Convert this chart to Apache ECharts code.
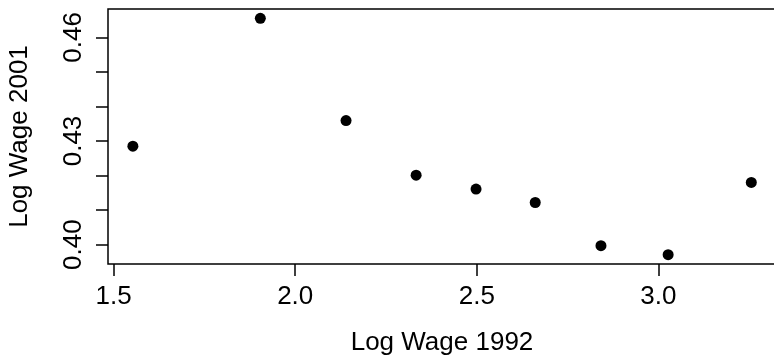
<!DOCTYPE html>
<html>
<head>
<meta charset="utf-8">
<script src="https://cdn.jsdelivr.net/npm/echarts@6/dist/echarts.min.js"></script>
<style>
	html, body {
		margin: 0;
		padding: 0;
		background: #fff;
	}
</style>
</head>
<body>
<div id="chartBox" style="width: 774px;height: 362px;"></div>
<script>
	// 数据
	var wage1992 = [1.553, 1.904, 2.140, 2.333, 2.498, 2.661, 2.842, 3.027, 3.256];
	var wage2001 = [0.4285, 0.4655, 0.4359, 0.4201, 0.4161, 0.4122, 0.3997, 0.3971, 0.4180];
	var xTicks = [1.5, 2.0, 2.5, 3.0];
	var yTicks = [0.40, 0.41, 0.42, 0.43, 0.44, 0.45, 0.46];
	var yLabels = [0.40, 0.43, 0.46];

	var points = wage1992.map(function (x, i) {
		return [x, wage2001[i]];
	});

	var font = 'Liberation Sans, Arial, Helvetica, sans-serif';
	var chart = echarts.init(document.getElementById('chartBox'));
	var option = {
		animation: false,
		grid: {
			left: 108,
			top: 9,
			right: -2,
			bottom: 98,
			show: true,
			borderColor: '#000',
			borderWidth: 1.5,
			outerBoundsMode: 'none'
		},
		xAxis: {
			type: 'value',
			min: 1.4845,
			max: 3.324,
			name: 'Log Wage 1992',
			nameLocation: 'middle',
			nameGap: 66,
			nameTextStyle: { color: '#000', fontSize: 26, fontFamily: font },
			axisLine: { show: false },
			splitLine: { show: false },
			axisTick: {
				show: true,
				length: 12,
				customValues: xTicks,
				lineStyle: { color: '#000', width: 1.5 }
			},
			axisLabel: {
				customValues: xTicks,
				margin: 20,
				color: '#000',
				fontSize: 26,
				fontFamily: font,
				formatter: function (v) { return v.toFixed(1); }
			}
		},
		yAxis: {
			type: 'value',
			min: 0.3944,
			max: 0.4682,
			name: 'Log Wage 2001',
			nameLocation: 'middle',
			nameRotate: 90,
			nameGap: 75,
			nameTextStyle: { color: '#000', fontSize: 26, fontFamily: font },
			axisLine: { show: false },
			splitLine: { show: false },
			axisTick: {
				show: true,
				length: 12,
				customValues: yTicks,
				lineStyle: { color: '#000', width: 1.5 }
			},
			axisLabel: {
				customValues: yLabels,
				rotate: 90,
				margin: 21,
				color: '#000',
				fontSize: 26,
				fontFamily: font,
				formatter: function (v) { return v.toFixed(2); }
			}
		},
		series: [{
			type: 'scatter',
			data: points,
			symbol: 'circle',
			symbolSize: 11,
			itemStyle: { color: '#000', opacity: 1 }
		}]
	};
	chart.setOption(option);
</script>
</body>
</html>
